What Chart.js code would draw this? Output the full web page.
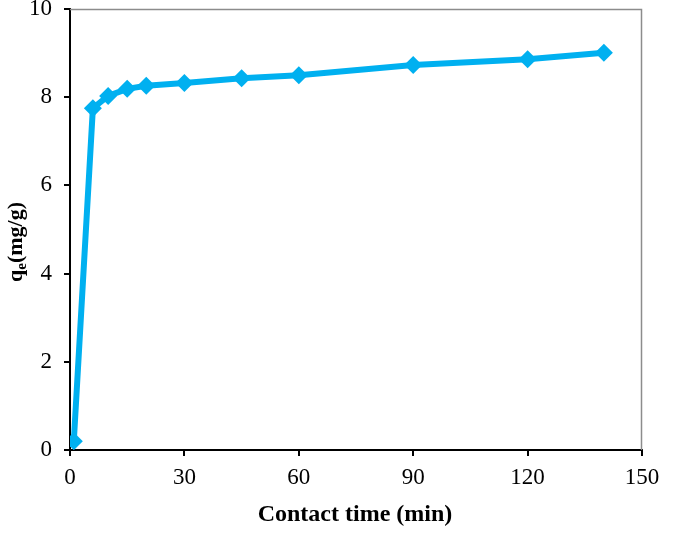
<!DOCTYPE html>
<html>
<head>
<meta charset="utf-8">
<script src="https://cdn.jsdelivr.net/npm/chart.js@4"></script>
<style>
html,body{margin:0;padding:0;background:#fff;}
#wrap{width:685px;height:551px;position:relative;}
</style>
</head>
<body>
<div id="wrap"><canvas id="c" width="685" height="551"></canvas></div>
<script>
const contactTime = [1, 6, 10, 15, 20, 30, 45, 60, 90, 120, 140];
const qe = [0.2, 7.75, 8.03, 8.19, 8.26, 8.32, 8.43, 8.5, 8.73, 8.86, 9.01];
const xTicks = [0, 30, 60, 90, 120, 150];
const yTicks = [0, 2, 4, 6, 8, 10];
const xTitle = 'Contact time (min)';
const yTitleMain = 'q';
const yTitleSub = 'e';
const yTitleRest = '(mg/g)';

const serif = '"Liberation Serif", "Times New Roman", serif';

const framePlugin = {
  id: 'frame',
  beforeDatasetsDraw(chart) {
    const {ctx, chartArea: a} = chart;
    ctx.save();
    ctx.strokeStyle = '#8c8c8c';
    ctx.lineWidth = 1.5;
    ctx.beginPath();
    ctx.moveTo(a.left, a.top + 0.5);
    ctx.lineTo(a.right - 0.5, a.top + 0.5);
    ctx.lineTo(a.right - 0.5, a.bottom);
    ctx.stroke();
    ctx.restore();
  },
  afterDraw(chart) {
    const {ctx, chartArea: a} = chart;
    ctx.save();
    ctx.fillStyle = '#000';
    ctx.font = 'bold 24px ' + serif;
    ctx.textAlign = 'center';
    ctx.textBaseline = 'middle';
    ctx.fillText(xTitle, (a.left + a.right) / 2 - 1, 515);
    // y title rotated with subscript
    ctx.translate(15, 242);
    ctx.rotate(-Math.PI / 2);
    ctx.font = 'bold 22px ' + serif;
    const w1 = ctx.measureText(yTitleMain).width;
    ctx.font = 'bold 15px ' + serif;
    const w2 = ctx.measureText(yTitleSub).width;
    ctx.font = 'bold 22px ' + serif;
    const w3 = ctx.measureText(yTitleRest).width;
    const total = w1 + w2 + w3;
    let x = -total / 2;
    ctx.textAlign = 'left';
    ctx.textBaseline = 'alphabetic';
    ctx.fillText(yTitleMain, x, 7);
    x += w1;
    ctx.font = 'bold 15px ' + serif;
    ctx.fillText(yTitleSub, x, 11);
    x += w2;
    ctx.font = 'bold 22px ' + serif;
    ctx.fillText(yTitleRest, x, 7);
    ctx.restore();
  }
};

new Chart(document.getElementById('c'), {
  type: 'line',
  data: {
    datasets: [{
      data: contactTime.map((t, i) => ({x: t, y: qe[i]})),
      borderColor: '#00B0F0',
      backgroundColor: '#00B0F0',
      borderWidth: 6,
      pointStyle: 'rectRot',
      pointRadius: 9,
      pointHoverRadius: 9,
      pointBorderWidth: 0,
      tension: 0,
      fill: false
    }]
  },
  options: {
    responsive: false,
    animation: false,
    devicePixelRatio: 1,
    layout: {padding: {left: 0, right: 43, top: 7, bottom: 0}},
    plugins: {legend: {display: false}, tooltip: {enabled: false}},
    scales: {
      x: {
        type: 'linear',
        min: 0, max: 150,
        afterBuildTicks: s => { s.ticks = xTicks.map(v => ({value: v})); },
        afterFit: s => { s.height = 101; s.paddingLeft = 0; s.paddingRight = 0; },
        grid: {drawOnChartArea: false, drawTicks: true, tickLength: 6, color: '#000', lineWidth: 2},
        border: {color: '#000', width: 2},
        ticks: {color: '#000', font: {family: serif, size: 23}, padding: 8, maxRotation: 0}
      },
      y: {
        type: 'linear',
        min: 0, max: 10,
        afterBuildTicks: s => { s.ticks = yTicks.map(v => ({value: v})); },
        afterFit: s => { s.width = 70; s.paddingTop = 0; s.paddingBottom = 0; },
        grid: {drawOnChartArea: false, drawTicks: true, tickLength: 6, color: '#000', lineWidth: 2},
        border: {color: '#000', width: 2},
        ticks: {color: '#000', font: {family: serif, size: 23}, padding: 12}
      }
    }
  },
  plugins: [framePlugin]
});
</script>
</body>
</html>
